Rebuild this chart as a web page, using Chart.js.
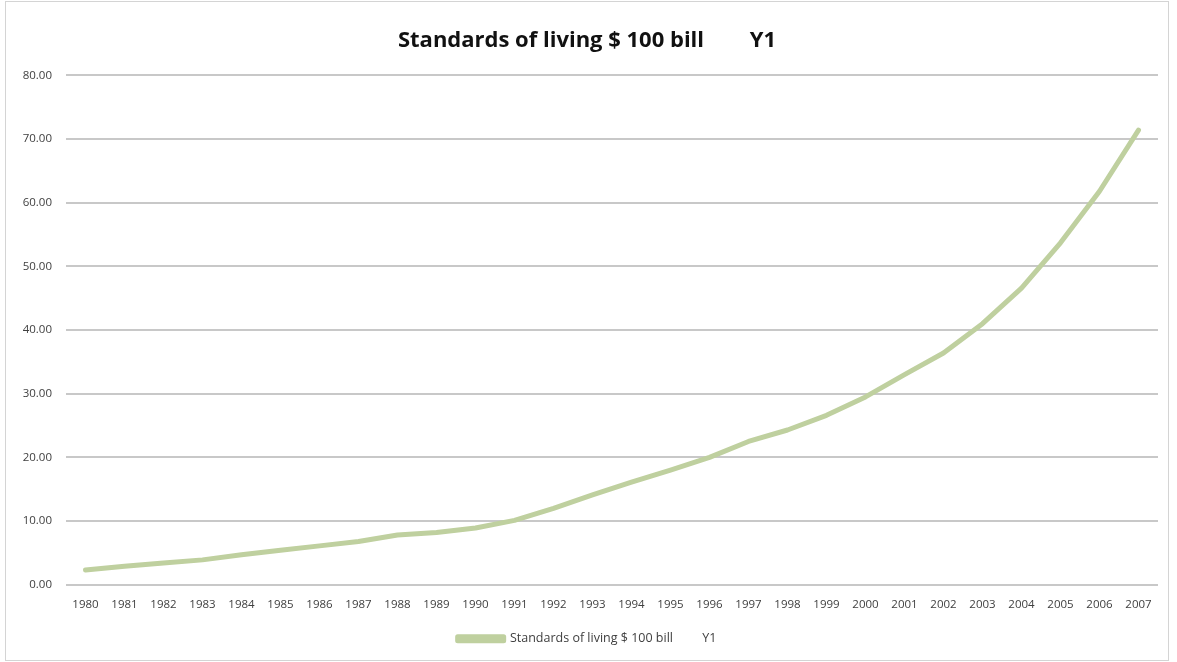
<!DOCTYPE html>
<html>
<head>
<meta charset="utf-8">
<title>Standards of living $ 100 bill Y1</title>
<script src="https://cdn.jsdelivr.net/npm/chart.js@4"></script>
<style>
  html, body { margin: 0; padding: 0; background: #fff; }
  .frame {
    position: absolute;
    left: 5px;
    top: 1px;
    width: 1162px;
    height: 658px;
    border: 1px solid #d4d4d4;
  }
  canvas { display: block; }
</style>
</head>
<body>
<div class="frame"><canvas id="livingChart" width="1162" height="658"></canvas></div>
<script>
const years = [
  "1980", "1981", "1982", "1983", "1984", "1985", "1986", "1987", "1988", "1989",
  "1990", "1991", "1992", "1993", "1994", "1995", "1996", "1997", "1998", "1999",
  "2000", "2001", "2002", "2003", "2004", "2005", "2006", "2007",
];
const livingValues = [
  2.3, 2.9, 3.4, 3.9, 4.7, 5.4, 6.1, 6.8, 7.8, 8.2,
  8.9, 10.1, 12.0, 14.1, 16.1, 18.0, 20.0, 22.5, 24.3, 26.6,
  29.5, 33.0, 36.4, 41.0, 46.6, 53.7, 61.8, 71.4,
];
const yMin = 0;
const yMax = 80;
const yStep = 10;

const seriesLabel = "Standards of living $ 100 bill         Y1";
const chartTitle = "Standards of living $ 100 bill        Y1";

const green = "#bfd09f";
const textColor = "#404040";
const gridColor = "#c8c8c8";
const fontFamily = "'Open Sans', Lato, sans-serif";

function setupChart() {
  const ctx = document.getElementById("livingChart");

  return new Chart(ctx, {
    type: "line",
    data: {
      labels: years,
      datasets: [
        {
          label: seriesLabel,
          data: livingValues,
          borderColor: green,
          backgroundColor: green,
          borderWidth: 5,
          borderCapStyle: "round",
          borderJoinStyle: "round",
          tension: 0,
          pointRadius: 0,
          pointHoverRadius: 0,
        },
      ],
    },
    options: {
      responsive: false,
      animation: false,
      layout: { padding: { top: 0, right: 10, bottom: 5, left: 10 } },
      plugins: {
        title: {
          display: true,
          text: chartTitle,
          color: "#111",
          font: { family: fontFamily, size: 22, weight: "bold" },
          padding: { top: 26, bottom: 21 },
        },
        legend: {
          position: "bottom",
          labels: {
            color: textColor,
            font: { family: fontFamily, size: 12.5 },
            boxWidth: 46,
            boxHeight: 4,
            padding: 16,
          },
        },
        tooltip: { enabled: false },
      },
      scales: {
        x: {
          offset: true,
          grid: { display: false },
          border: { display: false },
          ticks: {
            color: textColor,
            font: { family: fontFamily, size: 11.5 },
            maxRotation: 0,
            autoSkip: false,
            padding: 5,
          },
        },
        y: {
          min: yMin,
          max: yMax,
          grid: { color: gridColor, lineWidth: 2, drawTicks: false },
          border: { display: false },
          ticks: {
            stepSize: yStep,
            color: textColor,
            font: { family: fontFamily, size: 11.5 },
            padding: 14,
            callback: (value) => value.toFixed(2),
          },
          afterFit: (scale) => {
            scale.width = 50;
          },
        },
      },
    },
  });
}

window.addEventListener("DOMContentLoaded", () => {
  setupChart();
});
</script>
</body>
</html>
